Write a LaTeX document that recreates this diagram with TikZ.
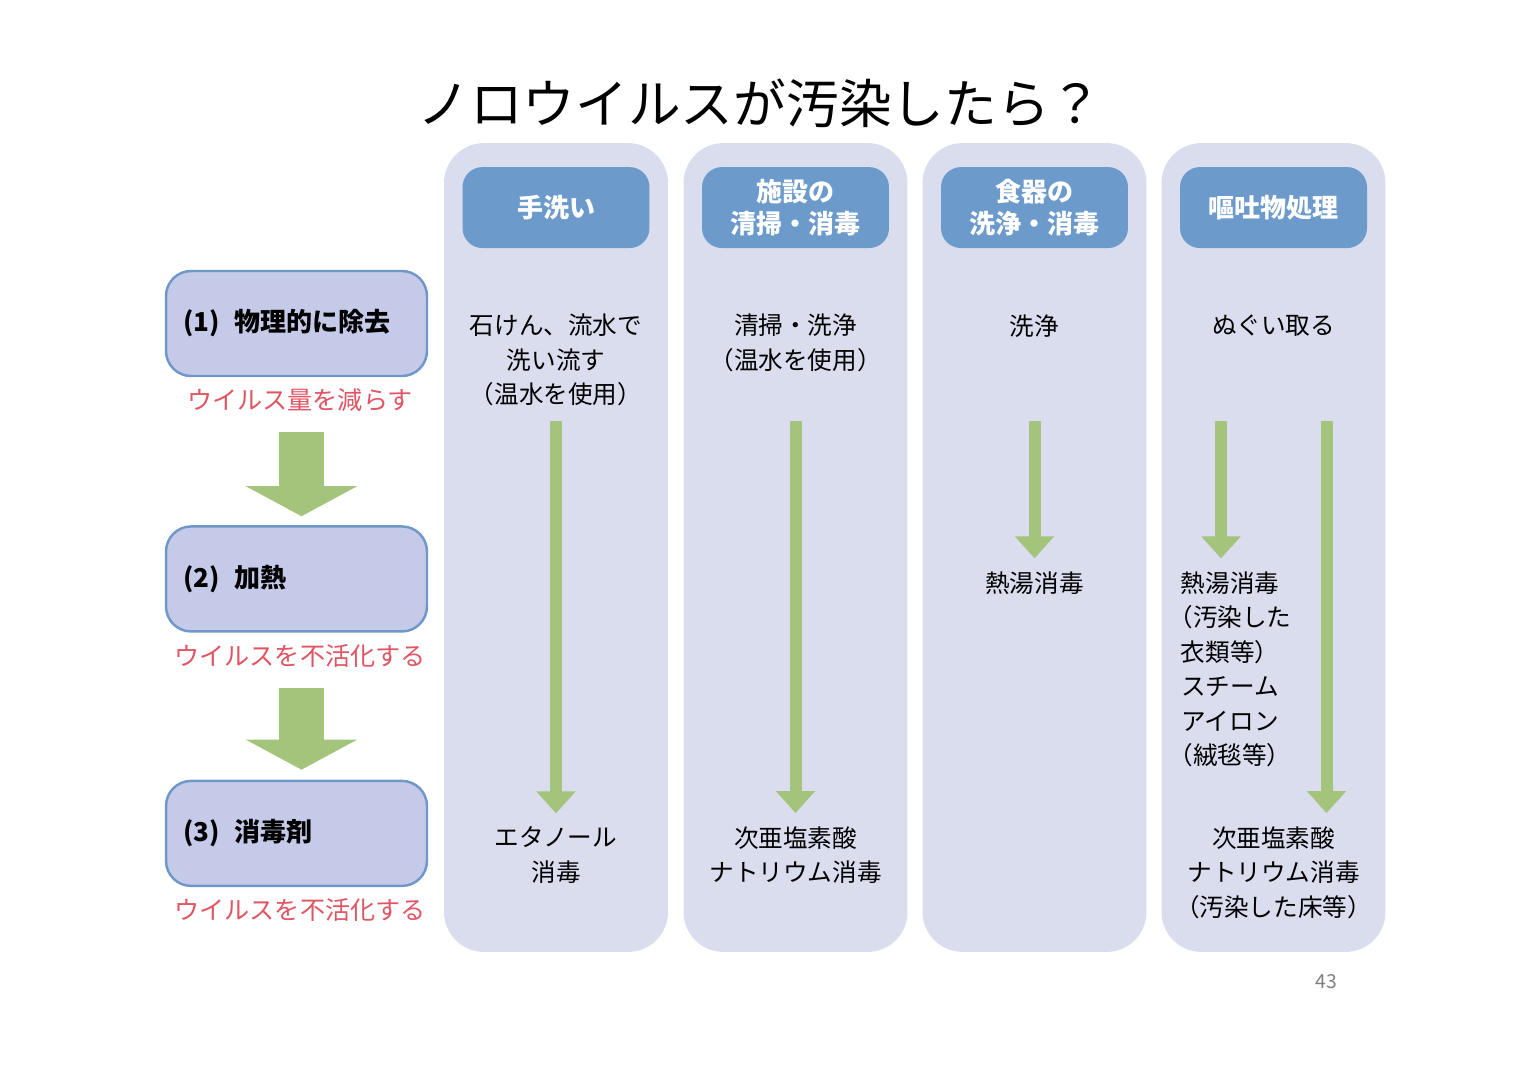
\documentclass[tikz,border=0pt]{standalone}
\usepackage{fontspec}
\setmainfont{Noto Sans CJK JP}
\usetikzlibrary{arrows.meta}
\usetikzlibrary{positioning}

\definecolor{panelbg}{HTML}{D9DDEE}
\definecolor{headblue}{HTML}{6C9ACB}
\definecolor{stepfill}{HTML}{C5CAE9}
\definecolor{stepline}{HTML}{6F98C9}
\definecolor{leafgreen}{HTML}{A5C47B}
\definecolor{notered}{HTML}{E05563}

\begin{document}
\begin{tikzpicture}[
        x=0.02cm, y=-0.02cm,
        on grid,
        panel/.style={fill=panelbg, rounded corners=0.8cm, minimum width=4.48cm, minimum height=16.18cm},
        headbox/.style={fill=headblue, rounded corners=0.4cm, minimum width=3.74cm, minimum height=1.62cm,
            text=white, align=center, font=\bfseries\fontsize{14.8}{18.2}\selectfont},
        stepbox/.style={fill=stepfill, draw=stepline, line width=1.4pt, rounded corners=0.5cm,
            minimum height=2.1cm, text width=4.54cm, inner xsep=0.34cm, align=left,
            font=\bfseries\fontsize{14.8}{18}\selectfont},
        note/.style={text=notered, inner sep=0pt, font=\fontsize{14.3}{17}\selectfont},
        body/.style={align=center, inner sep=0pt, font=\fontsize{14}{19.6}\selectfont},
        bigarrow/.style={leafgreen, line width=0.9cm, -{Triangle[length=0.6cm, width=2.2cm]}},
        thinarrow/.style={leafgreen, line width=0.24cm, -{Triangle[length=0.44cm, width=0.76cm]},
            shorten >=0.26cm}
    ]

    % Page and title
    \fill[white] (0,0) rectangle (1527,1075);
    \useasboundingbox (0,0) rectangle (1527,1075);
    \node (title) at (760,103) {\fontsize{30}{35}\selectfont ノロウイルスが汚染したら？};

    % Steps on the left
    \node[stepbox] (step1) at (296.5,323.5) {(1)\hspace{0.12cm} 物理的に除去};
    \node[stepbox, below=5.11cm of step1] (step2) {(2)\hspace{0.12cm} 加熱};
    \node[stepbox, below=5.09cm of step2] (step3) {(3)\hspace{0.12cm} 消毒剤};

    \node[note, below=1.53cm of step1, xshift=0.07cm] (note1) {ウイルス量を減らす};
    \node[note, below=1.54cm of step2, xshift=0.07cm] (note2) {ウイルスを不活化する};
    \node[note, below=1.54cm of step3, xshift=0.07cm] (note3) {ウイルスを不活化する};

    % Big arrows between steps
    \draw[bigarrow, shorten <=1.1cm, shorten >=0.18cm]
        ([xshift=0.1cm]step1.south) -- ([xshift=0.1cm]step2.north);
    \draw[bigarrow, shorten <=1.1cm, shorten >=0.2cm]
        ([xshift=0.1cm]step2.south) -- ([xshift=0.1cm]step3.north);

    % Column panels
    \node[panel] (col1) at (556,547.5) {};
    \node[panel] (col2) at (795.5,547.5) {};
    \node[panel] (col3) at (1034.5,547.5) {};
    \node[panel] (col4) at (1273.5,547.5) {};

    % Column headers
    \node[headbox, above=6.8cm of col1] (head1) {手洗い};
    \node[headbox, above=6.8cm of col2] (head2) {施設の\\清掃・消毒};
    \node[headbox, above=6.8cm of col3] (head3) {食器の\\洗浄・消毒};
    \node[headbox, above=6.8cm of col4] (head4) {嘔吐物処理};

    % Texts in the columns
    \node[body, above=3.75cm of col1] (top1) {石けん、流水で\\洗い流す\\（温水を使用）};
    \node[body, above=4.09cm of col2] (top2) {清掃・洗浄\\（温水を使用）};
    \node[body, above=4.43cm of col3] (top3) {洗浄};
    \node[body, above=4.43cm of col4] (top4) {ぬぐい取る};

    \node[body, below=0.71cm of col3] (mid3) {熱湯消毒};
    \node[body, below=2.44cm of col4, xshift=-0.87cm] (mid4)
        {熱湯消毒\\（汚染した\\衣類等）\\スチーム\\アイロン\\（絨毯等）};

    \node[body, below=6.15cm of col1] (bot1) {エタノール\\消毒};
    \node[body, below=6.15cm of col2] (bot2) {次亜塩素酸\\ナトリウム消毒};
    \node[body, below=6.5cm of col4] (bot4) {次亜塩素酸\\ナトリウム消毒\\（汚染した床等）};

    % Arrows in the columns
    \coordinate (astart) at (0,421);
    \draw[thinarrow] (top1 |- astart) -- (bot1.north);
    \draw[thinarrow] (top2 |- astart) -- (bot2.north);
    \draw[thinarrow] (top3 |- astart) -- (mid3.north);
    \draw[thinarrow] ([xshift=-0.18cm]mid4.north |- astart) -- ([xshift=-0.18cm]mid4.north);
    \draw[thinarrow] ([xshift=1.06cm]bot4.north |- astart) -- ([xshift=1.06cm]bot4.north);

    % Page number
    \node[text=gray, font=\fontsize{11}{13}\selectfont] (pageno) at (1326,982) {43};

\end{tikzpicture}
\end{document}
